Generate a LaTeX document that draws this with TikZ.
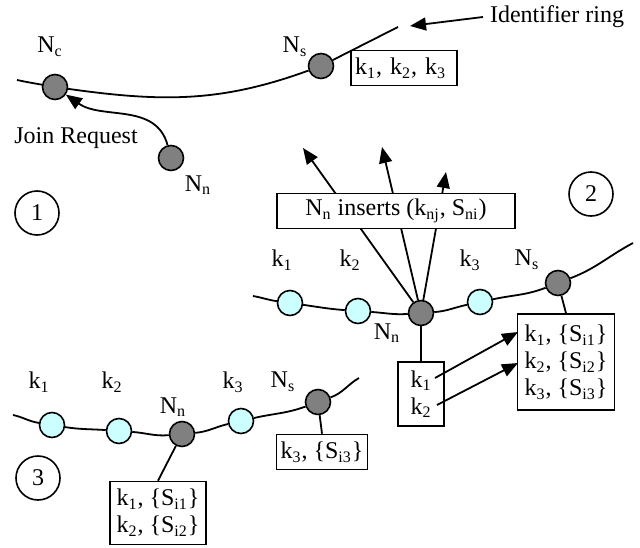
\documentclass[tikz,border=0pt]{standalone}
\usepackage{fontspec}
\setmainfont{Liberation Serif}
\usetikzlibrary{positioning, arrows.meta}
\definecolor{keyfill}{RGB}{204,255,255}
\definecolor{peerfill}{RGB}{128,128,128}
\tikzstyle{arrow} = [line width=0.9pt, -{Triangle[length=8pt,width=6.5pt]}]
\tikzstyle{peer} = [draw, circle, fill=peerfill, minimum size=12.5pt, inner sep=0pt, line width=0.8pt]
\tikzstyle{keynode} = [peer, fill=keyfill]
\tikzstyle{ring} = [line width=0.9pt]
\tikzstyle{keybox} = [draw, rectangle, fill=white, line width=0.8pt, inner sep=2pt]
\tikzstyle{stage} = [draw, circle, minimum size=22pt, inner sep=0pt, line width=0.8pt]
\newcommand{\lbl}[2]{#1\textsubscript{#2}}

\begin{document}
\begin{tikzpicture}[x=0.5pt, y=0.5pt, font=\fontsize{12}{13.5}\selectfont]
    \useasboundingbox (0,0) rectangle (640,547);

    % Step 1
    \coordinate (r1a) at (17,467);
    \coordinate (r1b) at (398,520);
    \node[peer] (nc1) at (55,460) {};
    \node[peer] (ns1) at (321,481) {};
    \node[peer] (nn1) at (171,389) {};
    \node at (50,500) {\lbl{N}{c}};
    \node at (295,500) {\lbl{N}{s}};
    \node at (198,362) {\lbl{N}{n}};
    \node[keybox, text width=49pt, minimum height=17.5pt] (keys1) at (404,479) {\lbl{k}{1}, \lbl{k}{2}, \lbl{k}{3}};
    \node (ringlabel) at (557,530) {Identifier ring};
    \coordinate (ringtip) at (410,521);
    \node (joinlabel) at (76,409) {Join Request};
    \node[stage] (st1) at (37,334) {1};

    \draw[ring] (r1a) to[out=-12,in=170] (nc1) to[out=-8,in=200] (ns1) -- (r1b);
    \draw[arrow] (ringlabel.west) -- (ringtip);
    \draw[arrow] (nn1) to[out=105,in=-35] (nc1);

    % Step 2
    \coordinate (r2a) at (253,251);
    \coordinate (r2b) at (633,304);
    \node[keynode] (k21) at (290,244) {};
    \node[keynode] (k22) at (358,236) {};
    \node[peer] (nn2) at (421,234) {};
    \node[keynode] (k23) at (480,245) {};
    \node[peer] (ns2) at (558,264) {};
    \node at (282,287) {\lbl{k}{1}};
    \node at (350,287) {\lbl{k}{2}};
    \node at (470,287) {\lbl{k}{3}};
    \node at (527,287) {\lbl{N}{s}};
    \node at (387,214) {\lbl{N}{n}};
    \node[stage] (st2) at (591,353) {2};

    \draw[ring] (r2a) to[out=-10,in=172] (k21) to[out=-8,in=176] (k22)
        to[out=-4,in=184] (nn2) to[out=4,in=192] (k23)
        to[out=12,in=201] (ns2) to[out=21,in=208] (r2b);

    \coordinate (tipa) at (303,399);
    \coordinate (tipb) at (382,400);
    \coordinate (tipc) at (446,375);
    \draw[arrow] (nn2) -- (tipa);
    \draw[arrow] (nn2) -- (tipb);
    \draw[arrow] (nn2) -- (tipc);
    \node[keybox, minimum width=119pt, minimum height=17.5pt] (inserts) at (396,336) {\lbl{N}{n} inserts (\lbl{k}{nj}, \lbl{S}{ni})};

    \node[keybox, align=center, minimum width=23pt, minimum height=32pt] (moved) at (421,153) {\lbl{k}{1}\\\lbl{k}{2}};
    \node[keybox, align=left, minimum width=48.5pt, minimum height=48pt] (stored2) at (566,185) {\lbl{k}{1}, \{\lbl{S}{i1}\}\\\lbl{k}{2}, \{\lbl{S}{i2}\}\\\lbl{k}{3}, \{\lbl{S}{i3}\}};
    \draw[ring] (nn2) -- (moved);
    \draw[ring] (ns2) -- (stored2.north);
    \coordinate (mk1) at (435,169);
    \coordinate (mk2) at (437,142);
    \coordinate (sk1) at (518,215);
    \coordinate (sk2) at (518,184);
    \draw[arrow] (mk1) -- (sk1);
    \draw[arrow] (mk2) -- (sk2);

    % Step 3
    \coordinate (r3a) at (13,132);
    \coordinate (r3b) at (359,169);
    \node[keynode] (k31) at (52,122) {};
    \node[keynode] (k32) at (119,116) {};
    \node[peer] (nn3) at (182,113) {};
    \node[keynode] (k33) at (241,126) {};
    \node[peer] (ns3) at (318,145) {};
    \node at (39,165) {\lbl{k}{1}};
    \node at (112,165) {\lbl{k}{2}};
    \node at (173,140) {\lbl{N}{n}};
    \node at (233,165) {\lbl{k}{3}};
    \node at (283,165) {\lbl{N}{s}};
    \node[stage] (st3) at (38,69) {3};

    \draw[ring] (r3a) to[out=-12,in=171] (k31) to[out=-9,in=176] (k32)
        to[out=-4,in=185] (nn3) to[out=5,in=193] (k33)
        to[out=13,in=200] (ns3) to[out=20,in=210] (r3b);

    \node[keybox, minimum width=44.5pt, minimum height=17.5pt] (stored3) at (322,95) {\lbl{k}{3}, \{\lbl{S}{i3}\}};
    \node[keybox, align=left, minimum width=48pt, minimum height=31.5pt] (kept3) at (158,34) {\lbl{k}{1}, \{\lbl{S}{i1}\}\\\lbl{k}{2}, \{\lbl{S}{i2}\}};
    \draw[ring] (ns3) -- (stored3.north);
    \draw[ring] (nn3) -- (kept3.north);
\end{tikzpicture}
\end{document}
